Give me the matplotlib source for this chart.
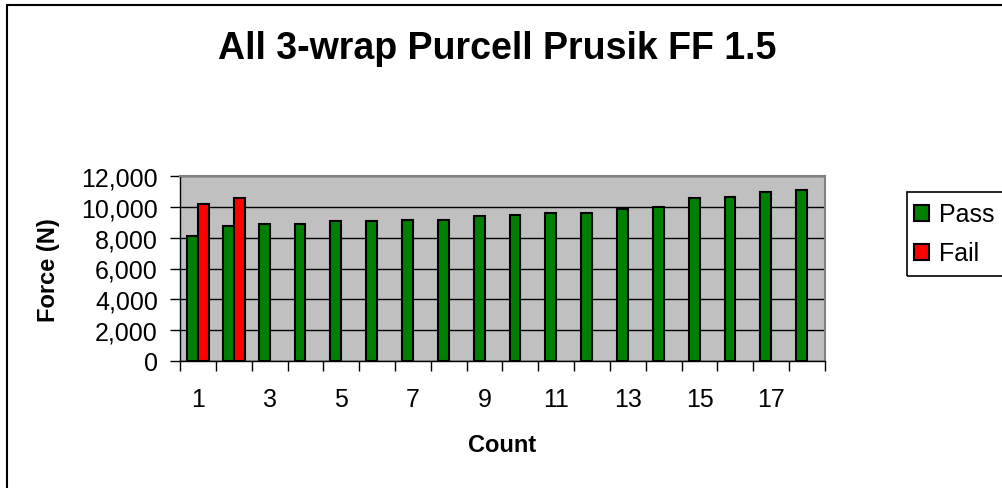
import matplotlib
matplotlib.use("Agg")
import matplotlib.pyplot as plt
from matplotlib.patches import Patch, Rectangle
from matplotlib.ticker import FuncFormatter
import numpy as np

plt.rcParams['font.family'] = ['Liberation Sans', 'DejaVu Sans']

# Data
counts = list(range(1, 19))
pass_force = [8130, 8730, 8860, 8860, 9050, 9050, 9160, 9160, 9430,
              9450, 9610, 9610, 9890, 10020, 10550, 10650, 10940, 11060]
fail_force = [10160, 10590] + [np.nan] * 16
series_names = ['Pass', 'Fail']
title = 'All 3-wrap Purcell Prusik FF 1.5'

W, H = 1003, 489
fig = plt.figure(figsize=(W / 100, H / 100), dpi=100)
ax = fig.add_axes([180 / W, 1 - 362 / H, (825 - 180) / W, (362 - 177) / H])
ax.set_facecolor('#C0C0C0')

x = np.array(counts, dtype=float)
bw = 0.3
ax.bar(x - bw / 2, pass_force, width=bw, color='#008000', edgecolor='black', linewidth=1.5, zorder=3)
ax.bar(x + bw / 2, fail_force, width=bw, color='#FF0000', edgecolor='black', linewidth=1.5, zorder=3)

ax.set_xlim(0.5, 18.5)
ax.set_ylim(0, 12000)
ax.set_yticks(range(0, 12001, 2000))
ax.yaxis.set_major_formatter(FuncFormatter(lambda v, p: f'{int(v):,}'))
ax.grid(True, axis='y', color='black', linewidth=1, zorder=1)

# category boundaries get the ticks, labels sit at every other category
ax.set_xticks(np.arange(0.5, 19, 1.0))
ax.set_xticklabels([])
ax.set_xticks(counts[::2], minor=True)
ax.set_xticklabels([str(c) for c in counts[::2]], minor=True)
ax.tick_params(axis='x', which='major', length=7, width=1, direction='out')
ax.tick_params(axis='x', which='minor', length=0, pad=19, labelsize=18)
ax.tick_params(axis='y', length=7, width=1, direction='out', pad=9, labelsize=18)

for side in ['top', 'right']:
    ax.spines[side].set_color('#808080')
    ax.spines[side].set_linewidth(1.5)
for side in ['left', 'bottom']:
    ax.spines[side].set_color('black')
    ax.spines[side].set_linewidth(1)

ax.set_ylabel('Force (N)', fontsize=17, fontweight='bold', va='center')
ax.yaxis.set_label_coords((48 - 180) / 645, (362 - 270) / 185)
ax.set_xlabel('Count', fontsize=17, fontweight='bold', va='center')
ax.xaxis.set_label_coords(0.5, (362 - 446) / 185)

fig.text(497 / W, 1 - 49 / H, title, fontsize=27, fontweight='bold', ha='center', va='center')

# legend
handles = [Patch(facecolor='#008000', edgecolor='black', linewidth=1.5),
           Patch(facecolor='#FF0000', edgecolor='black', linewidth=1.5)]
fig.legend(handles, series_names, loc='center left', bbox_to_anchor=(914 / W, 1 - 235 / H),
           frameon=False, fontsize=18, handlelength=0.62, handleheight=0.62,
           handletextpad=0.4, labelspacing=0.6, borderpad=0, borderaxespad=0)
fig.patches.append(Rectangle((907 / W, 1 - 277 / H), 0.2, 84 / H, transform=fig.transFigure,
                             fill=False, edgecolor='black', linewidth=1.2))

# outer chart frame (right and bottom edges fall outside the image)
fig.patches.append(Rectangle((7.5 / W, -0.1), 1.1, 1.1 - 5.5 / H, transform=fig.transFigure,
                             fill=False, edgecolor='black', linewidth=1.5))

fig.savefig('out.png', dpi=100)
